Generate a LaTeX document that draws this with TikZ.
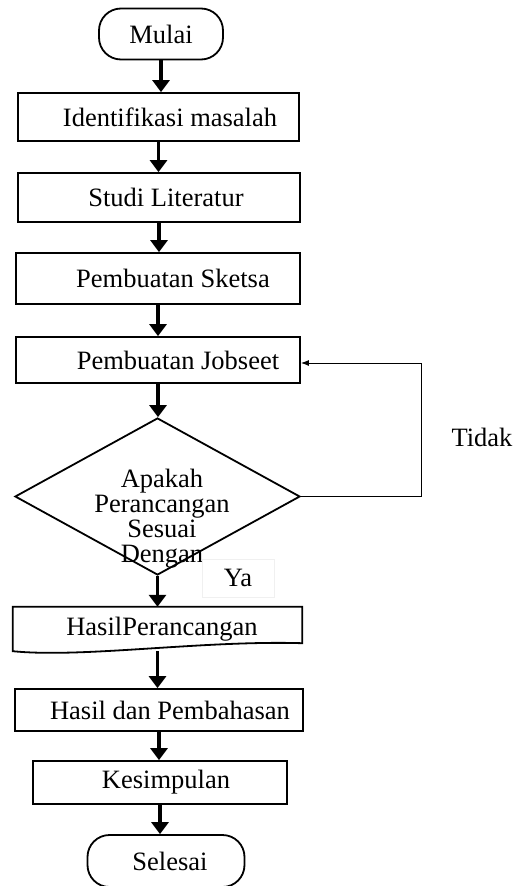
\documentclass[tikz,border=0pt]{standalone}
\usepackage{fontspec}
\setmainfont{Liberation Serif}
\usetikzlibrary{arrows.meta,shapes.geometric}

\begin{document}
\begin{tikzpicture}[x=1pt,y=-1pt,>=Latex,
  every node/.style={font=\fontsize{26.5}{30}\selectfont},
  kotak/.style={draw,line width=1.8pt,inner sep=0pt},
  terminal/.style={draw,line width=1.8pt,rounded corners=22pt,inner sep=0pt},
  keputusan/.style={draw,diamond,line width=1.8pt,inner sep=0pt},
  panah/.style={-{Triangle[length=12pt,width=17pt]},line width=3.8pt},
  balik/.style={-{Latex[length=8pt,width=6pt]},line width=1pt}]
  \useasboundingbox (0,0) rectangle (517,886);

  \node[terminal,minimum width=124pt,minimum height=51pt] (mulai) at (161,34) {Mulai};
  \node[kotak,minimum width=281pt,minimum height=48pt] (identifikasi) at (158.5,117) {\hspace*{23pt}Identifikasi masalah};
  \node[kotak,minimum width=282pt,minimum height=49pt] (studi) at (159,197.5) {\hspace*{14pt}Studi Literatur};
  \node[kotak,minimum width=284pt,minimum height=51pt] (sketsa) at (158,278.5) {\hspace*{30pt}Pembuatan Sketsa};
  \node[kotak,minimum width=284pt,minimum height=46pt] (jobseet) at (158,360) {\hspace*{40pt}Pembuatan Jobseet};
  \node[keputusan,minimum width=285pt,minimum height=157pt] (cek) at (157.5,496.5) {};
  \node[align=center,font=\fontsize{26.5}{25}\selectfont] (cektxt) at (162,519) {Apakah\\Perancangan\\Sesuai\\Dengan};
  \node[draw=gray!12,line width=0.6pt,minimum width=72pt,minimum height=38pt] (ya) at (238,578) {Ya};
  \node (tidak) at (482,437) {Tidak};

  % dokumen hasil perancangan
  \node[minimum width=289pt,minimum height=44pt,inner sep=0pt] (hasil) at (157.5,629) {\hspace*{9pt}HasilPerancangan};
  \draw[line width=1.8pt] (hasil.south west) -- (hasil.north west) -- (hasil.north east)
    -- ([yshift=8pt]hasil.south east)
    .. controls ([xshift=-100pt,yshift=11pt]hasil.south east) and ([xshift=70pt,yshift=-7pt]hasil.south west) .. (hasil.south west) -- cycle;

  \node[kotak,minimum width=288pt,minimum height=42pt] (bahas) at (159,710) {\hspace*{22pt}Hasil dan Pembahasan};
  \node[kotak,minimum width=254pt,minimum height=43pt] (kesimpulan) at (160,782.5) {\hspace*{12pt}Kesimpulan};
  \node[terminal,minimum width=157pt,minimum height=52pt] (selesai) at (166,861) {\hspace*{8pt}Selesai};

  \foreach \a/\b in {mulai/identifikasi,identifikasi/studi,studi/sketsa,sketsa/jobseet,
    jobseet/cek,cek/hasil,hasil/bahas,bahas/kesimpulan,kesimpulan/selesai}
    \draw[panah] (\a.south) -- (\a.south |- \b.north);

  % kembali jika tidak sesuai
  \coordinate (sudut) at (421,363);
  \draw[balik] (cek.east) -| (sudut) -- (sudut -| jobseet.east);
\end{tikzpicture}
\end{document}
